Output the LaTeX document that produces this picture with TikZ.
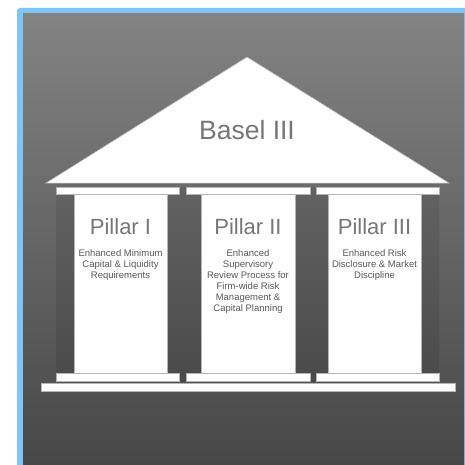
\documentclass[tikz,border=0pt]{standalone}
\usepackage{fontspec}
\setmainfont{Liberation Sans}
\usetikzlibrary{positioning}

\definecolor{frameblue}{HTML}{7CC5F7}
\definecolor{bgtop}{HTML}{838383}
\definecolor{bgbottom}{HTML}{474747}
\definecolor{shadetop}{HTML}{626262}
\definecolor{shadebottom}{HTML}{4A4A4A}
\definecolor{titlegray}{HTML}{777777}
\definecolor{textgray}{HTML}{585858}
\definecolor{edgegray}{HTML}{B4B4B4}

\begin{document}
\begin{tikzpicture}[x=1pt, y=-1pt,
  slab/.style={draw=edgegray, line width=0.5pt, fill=white},
  pillartitle/.style={inner sep=0pt, anchor=base, text=titlegray, font=\fontsize{22}{26}\selectfont},
  pillartext/.style={inner sep=0pt, align=center, text=textgray, font=\fontsize{9.5}{11}\selectfont},
  node distance=15pt]

\useasboundingbox (0,0) rectangle (464,465);

% Frame and background
\fill[frameblue, rounded corners=3pt] (17,8) rectangle (470,470);
\shade[top color=bgtop, bottom color=bgbottom] (23,14) rectangle (464,465);

% Roof
\draw[slab] (46,183) -- (247,57) -- (449,183) -- cycle;
\node[inner sep=0pt, anchor=base, text=titlegray, font=\fontsize{26.5}{30}\selectfont] (basel) at (247,140) {Basel III};

% Shadows behind the shafts
\shade[top color=shadetop, bottom color=shadebottom] (56,187) rectangle (439,381);

% Capitals
\draw[slab] (56,187) rectangle (179,194);
\draw[slab] (186,187) rectangle (310,194);
\draw[slab] (316,187) rectangle (439,194);
\draw[slab] (56,373) rectangle (179,381);
\draw[slab] (186,373) rectangle (310,381);
\draw[slab] (316,373) rectangle (439,381);

% Shafts
\draw[slab] (74,194) rectangle (167,373);
\draw[slab] (201,194) rectangle (295,373);
\draw[slab] (328,194) rectangle (421,373);

% Base
\draw[slab] (41,383) rectangle (455,391);

% Pillar labels
\node[pillartitle] (pillar_one) at (120.5,234) {Pillar I};
\node[pillartitle] (pillar_two) at (248,234) {Pillar II};
\node[pillartitle] (pillar_three) at (374.5,234) {Pillar III};

\node[pillartext, below=of pillar_one] (capital) {Enhanced Minimum\\Capital \& Liquidity\\Requirements};
\node[pillartext, below=of pillar_two] (review) {Enhanced\\Supervisory\\Review Process for\\Firm-wide Risk\\Management \&\\Capital Planning};
\node[pillartext, below=of pillar_three] (disclosure) {Enhanced Risk\\Disclosure \& Market\\Discipline};

\end{tikzpicture}
\end{document}
